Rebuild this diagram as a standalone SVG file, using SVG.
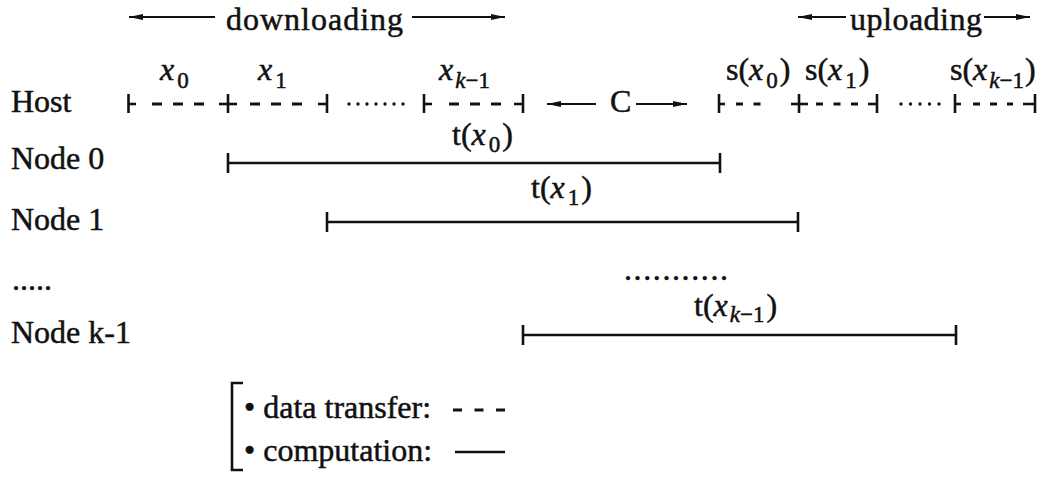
<svg xmlns="http://www.w3.org/2000/svg" width="1047" height="482" viewBox="0 0 1047 482">
<style>
text{font-family:"Liberation Serif","Times New Roman",serif;font-size:32px;fill:#111;stroke:#111;stroke-width:0.5}
.i{font-style:italic}
.sb{font-size:23px}
.ln{stroke:#111;stroke-width:2.6;fill:none}
.tk{stroke:#111;stroke-width:2.6}
.ar{stroke:#111;stroke-width:2.2}
.dash{stroke:#111;stroke-width:3;stroke-dasharray:10 11}
.udash{stroke:#111;stroke-width:3;stroke-dasharray:7 10.5}
.dots{stroke:#111;stroke-width:3.4;stroke-linecap:round;stroke-dasharray:0 9}
</style>
<defs>
<marker id="ah" markerUnits="userSpaceOnUse" markerWidth="15" markerHeight="8" refX="14" refY="4" orient="auto"><path d="M0,1 L14,4 L0,7 z" fill="#111"/></marker>
</defs>
<rect width="1047" height="482" fill="#fff"/>

<g id="phase-labels">
<text x="226" y="30" textLength="177">downloading</text>
<text x="850" y="30" textLength="132">uploading</text>
<text x="610" y="112">C</text>
</g>

<g id="host">
<text x="11" y="112">Host</text>
<text x="160" y="80"><tspan class="i">x</tspan><tspan class="sb" dx="3" dy="8">0</tspan></text>
<text x="258" y="80"><tspan class="i">x</tspan><tspan class="sb" dx="3" dy="8">1</tspan></text>
<text x="439" y="80"><tspan class="i">x</tspan><tspan class="sb i" dx="2" dy="8">k</tspan><tspan class="sb">−1</tspan></text>
<text x="726" y="80">s(<tspan class="i">x</tspan><tspan class="sb" dx="3" dy="8">0</tspan><tspan dy="-8" dx="2">)</tspan></text>
<text x="805" y="80">s(<tspan class="i">x</tspan><tspan class="sb" dx="3" dy="8">1</tspan><tspan dy="-8" dx="2">)</tspan></text>
<text x="950" y="80">s(<tspan class="i">x</tspan><tspan class="sb i" dx="2" dy="8">k</tspan><tspan class="sb">−1</tspan><tspan dy="-8" dx="1">)</tspan></text>
</g>

<g id="node0">
<text x="11" y="169">Node 0</text>
<text x="452" y="145">t(<tspan class="i">x</tspan><tspan class="sb" dx="3" dy="7">0</tspan><tspan dy="-7" dx="2">)</tspan></text>
</g>
<g id="node1">
<text x="11" y="230">Node 1</text>
<text x="531" y="198">t(<tspan class="i">x</tspan><tspan class="sb" dx="3" dy="7">1</tspan><tspan dy="-7" dx="2">)</tspan></text>
</g>
<g id="ellipsis">
<text x="12" y="290">.....</text>
<text x="624" y="280" textLength="104">...........</text>
</g>
<g id="nodek1">
<text x="11" y="343">Node k-1</text>
<text x="694" y="316">t(<tspan class="i">x</tspan><tspan class="sb i" dx="2" dy="6">k</tspan><tspan class="sb">−1</tspan><tspan dy="-6" dx="2">)</tspan></text>
</g>

<g id="connectors">
<line class="ar" x1="215" y1="17" x2="129" y2="17" marker-end="url(#ah)"/>
<line class="ar" x1="412" y1="17" x2="505" y2="17" marker-end="url(#ah)"/>
<line class="ar" x1="846" y1="17" x2="798" y2="17" marker-end="url(#ah)"/>
<line class="ar" x1="984" y1="17" x2="1030" y2="17" marker-end="url(#ah)"/>
<line class="ar" x1="596" y1="104" x2="547" y2="104" marker-end="url(#ah)"/>
<line class="ar" x1="636" y1="104" x2="687" y2="104" marker-end="url(#ah)"/>

<line class="tk" x1="128.5" y1="94" x2="128.5" y2="113"/>
<line class="tk" x1="128" y1="104" x2="136" y2="104"/>
<line class="dash" x1="152" y1="104" x2="204" y2="104"/>
<line class="tk" x1="228" y1="94" x2="228" y2="113"/>
<line class="tk" x1="219" y1="104" x2="237" y2="104"/>
<line class="dash" x1="250" y1="104" x2="302" y2="104"/>
<line class="tk" x1="318" y1="104" x2="327" y2="104"/>
<line class="tk" x1="327" y1="94" x2="327" y2="113"/>
<line class="dots" x1="349" y1="104" x2="404" y2="104"/>
<line class="tk" x1="424" y1="94" x2="424" y2="113"/>
<line class="tk" x1="424" y1="104" x2="432" y2="104"/>
<line class="dash" x1="449" y1="104" x2="501" y2="104"/>
<line class="tk" x1="514" y1="104" x2="523" y2="104"/>
<line class="tk" x1="523" y1="94" x2="523" y2="113"/>

<line class="tk" x1="719" y1="94" x2="719" y2="113"/>
<line class="tk" x1="719" y1="104" x2="725" y2="104"/>
<line class="udash" x1="736" y1="104" x2="760.5" y2="104"/>
<line class="tk" x1="799" y1="94" x2="799" y2="113"/>
<line class="tk" x1="791" y1="104" x2="808" y2="104"/>
<line class="udash" x1="816" y1="104" x2="858" y2="104"/>
<line class="tk" x1="868" y1="104" x2="877" y2="104"/>
<line class="tk" x1="877" y1="94" x2="877" y2="113"/>
<line class="dots" x1="901" y1="104" x2="942" y2="104" style="stroke-dasharray:0 9.5"/>
<line class="tk" x1="955" y1="94" x2="955" y2="113"/>
<line class="tk" x1="955" y1="104" x2="961" y2="104"/>
<line class="udash" x1="973" y1="104" x2="1013" y2="104" style="stroke-dasharray:7 10"/>
<line class="tk" x1="1023" y1="104" x2="1035" y2="104"/>
<line class="tk" x1="1035" y1="94" x2="1035" y2="113"/>

<line class="ln" x1="228" y1="163" x2="720" y2="163"/>
<line class="tk" x1="228" y1="153" x2="228" y2="173"/>
<line class="tk" x1="720" y1="153" x2="720" y2="173"/>
<line class="ln" x1="327" y1="222" x2="798" y2="222"/>
<line class="tk" x1="327" y1="212" x2="327" y2="232"/>
<line class="tk" x1="798" y1="212" x2="798" y2="232"/>
<line class="ln" x1="523" y1="335" x2="956" y2="335"/>
<line class="tk" x1="523" y1="325" x2="523" y2="345"/>
<line class="tk" x1="956" y1="325" x2="956" y2="345"/>
</g>

<g id="legend">
<path class="ln" d="M243,383 H232 V470 H243"/>
<text x="244" y="418">• data transfer:</text>
<line class="dash" x1="453" y1="410" x2="505" y2="410" style="stroke-dasharray:9 12.5"/>
<text x="244" y="461">• computation:</text>
<line class="ln" x1="455" y1="452" x2="505" y2="452"/>
</g>
</svg>
